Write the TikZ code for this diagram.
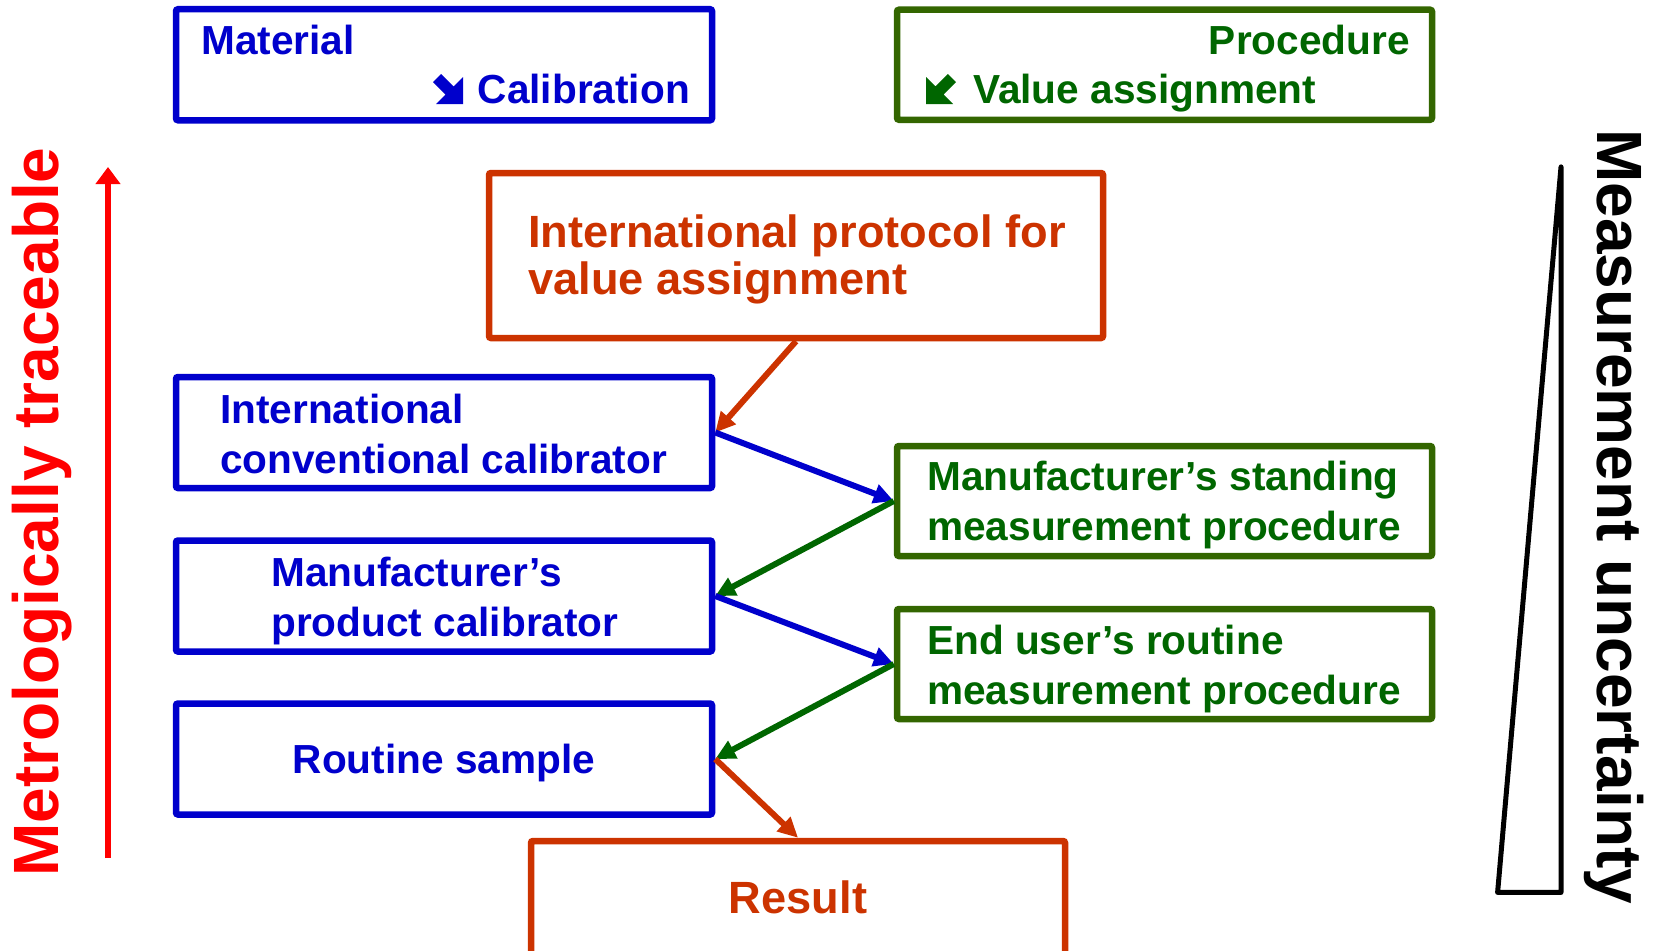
\documentclass[tikz,border=0pt]{standalone}
\usepackage{fontspec}
\setmainfont{Liberation Sans}
\usetikzlibrary{arrows.meta}
\definecolor{cblue}{HTML}{0000CC}
\definecolor{cboxgreen}{HTML}{336600}
\definecolor{cgreen}{HTML}{006600}
\definecolor{corange}{HTML}{CC3300}
\definecolor{cred}{HTML}{FF0000}
\tikzset{
  box/.style={draw, line width=6.5pt, inner sep=0pt, rounded corners=2pt},
  bluebox/.style={box, draw=cblue, minimum width=536pt, minimum height=111pt},
  greenbox/.style={box, draw=cboxgreen, minimum width=535pt, minimum height=110pt},
  orangebox/.style={box, draw=corange},
  txt/.style={font=\bfseries\fontsize{40.6}{48}\selectfont, inner sep=0pt},
  bigtxt/.style={font=\bfseries\fontsize{45.2}{54}\selectfont, inner sep=0pt, text=corange},
  sidetxt/.style={font=\bfseries\fontsize{64}{76}\selectfont, inner sep=0pt},
  arr/.style={line width=6pt, -{Triangle[length=20pt,width=19pt]}},
  heavyarrow/.pic={\fill (0,-0.27) -- (0.27,0) -- (0.685,-0.415) -- (1,-0.1) -- (1,-1) -- (0.1,-1) -- (0.415,-0.685) -- cycle;},
}
\begin{document}
\begin{tikzpicture}[x=1pt,y=1pt]
\useasboundingbox (0,0) rectangle (1656,-950);
\clip (0,0) rectangle (1656,-950);
% legend boxes
\node[bluebox] (mat) at (444,-64.75) {};
\node[txt, text=cblue, anchor=base west] (matA) at (201,-55) {Material};
\node[txt, text=cblue, anchor=base east] (matB) at (690,-103) {Calibration};
\pic[cblue, x=30pt, y=30pt] at (433pt,-74pt) {heavyarrow};
\node[greenbox] (proc) at (1164.5,-64.75) {};
\node[txt, text=cgreen, anchor=base east] (procA) at (1410,-55) {Procedure};
\node[txt, text=cgreen, anchor=base west] (procB) at (973,-103) {Value assignment};
\pic[cgreen, x=-30pt, y=30pt] at (956pt,-74pt) {heavyarrow};
% protocol
\node[orangebox, minimum width=614pt, minimum height=165pt] (prot) at (796,-255.5) {};
\node[bigtxt, anchor=base west] (protA) at (528,-247) {International protocol for};
\node[bigtxt, anchor=base west] (protB) at (528,-294) {value assignment};
% left column
\node[bluebox] (intconv) at (444,-432.5) {};
\node[txt, text=cblue, anchor=base west] (intconvA) at (220,-423) {International};
\node[txt, text=cblue, anchor=base west] (intconvB) at (220,-473) {conventional calibrator};
\node[bluebox] (product) at (444,-596) {};
\node[txt, text=cblue, anchor=base west] (productA) at (271,-586) {Manufacturer’s};
\node[txt, text=cblue, anchor=base west] (productB) at (271,-636) {product calibrator};
\node[bluebox] (routine) at (444,-759) {};
\node[txt, text=cblue, anchor=base] (routineA) at (444,-773) {Routine sample};
% right column
\node[greenbox] (standing) at (1164.5,-501) {};
\node[txt, text=cgreen, anchor=base west] (standingA) at (927,-490) {Manufacturer’s standing};
\node[txt, text=cgreen, anchor=base west] (standingB) at (927,-540) {measurement procedure};
\node[greenbox] (enduser) at (1164.5,-664) {};
\node[txt, text=cgreen, anchor=base west] (enduserA) at (927,-654) {End user’s routine};
\node[txt, text=cgreen, anchor=base west] (enduserB) at (927,-704) {measurement procedure};
% result
\node[orangebox, minimum width=534pt, minimum height=130pt] (result) at (798,-906) {};
\node[bigtxt, anchor=base] (resultA) at (798,-913) {Result};
% connectors
\draw[arr, corange] (prot.south) -- (intconv.east);
\draw[arr, cblue] (intconv.east) -- (standing.west);
\draw[arr, cgreen] (standing.west) -- (product.east);
\draw[arr, cblue] (product.east) -- (enduser.west);
\draw[arr, cgreen] (enduser.west) -- (routine.east);
\draw[arr, corange] (routine.east) -- (result.north);
% side annotations
\coordinate (trbot) at (108,-858);
\coordinate (trtop) at (108,-167);
\draw[line width=6pt, cred, -{Triangle[length=17pt,width=24pt]}] (trbot) -- (trtop);
\node[sidetxt, text=cred, rotate=90] (trace) at (42,-512) {Metrologically traceable};
\draw[line width=5pt, line join=round] (1497.6,-892.4) -- (1561,-892.4) -- (1561,-166.9) -- cycle;
\node[sidetxt, text=black, rotate=-90] (unc) at (1614,-517) {Measurement uncertainty};
\end{tikzpicture}
\end{document}
